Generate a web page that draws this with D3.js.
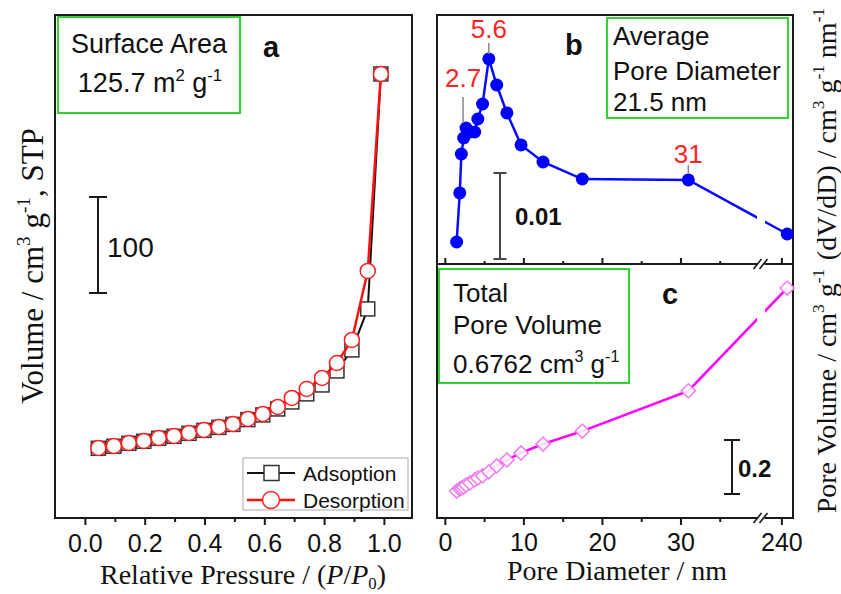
<!DOCTYPE html>
<html><head><meta charset="utf-8">
<script src="https://cdn.jsdelivr.net/npm/d3@7"></script>
<style>body{margin:0;background:#fff}svg{display:block}</style>
</head><body><svg id="chart" width="841" height="594"></svg>
<script>
// ---------------- data ----------------
const pressure = [0.045,0.097,0.147,0.197,0.247,0.298,0.348,0.398,0.448,0.495,0.545,0.595,0.645,0.692,0.742,0.793,0.843,0.893,0.946,0.990];
const adsorption = [24.6,26.7,29.8,31.9,35.0,37.1,40.2,43.3,46.4,49.5,54.5,59.4,65.6,72.9,81.3,90.6,105.2,127.1,169.8,414.6];
const desorption = [25.0,27.1,30.2,32.3,35.4,37.5,40.6,43.8,46.9,50.0,55.2,60.4,67.7,77.1,86.5,97.9,113.5,137.5,209.4,414.6];
const poreDiameter = [1.5,1.9,2.1,2.4,2.7,3.2,3.8,4.2,4.8,5.6,6.6,7.9,9.7,12.5,17.5,31,246];
const dVdD = [0.00256,0.00826,0.01279,0.01465,0.01581,0.01535,0.01535,0.01686,0.01860,0.02384,0.02081,0.01756,0.01384,0.01186,0.00988,0.00977,0.00349];
const poreVolume = [0.022,0.030,0.033,0.037,0.044,0.052,0.063,0.070,0.078,0.093,0.115,0.137,0.163,0.196,0.244,0.393,0.774];
const pressureTicks = [0,0.2,0.4,0.6,0.8,1.0];
const pressureMinorTicks = [0.1,0.3,0.5,0.7,0.9];
const diameterTicks = [0,10,20,30];
const diameterMinorTicks = [5,15,25,35];
const diameterHighTicks = [240];
const peakLabels = ["2.7","5.6","31"];
const peakDiameters = [2.7,5.6,31];
const legendLabels = ["Adsoption","Desorption"];

// ---------------- setup ----------------
const svg = d3.select("#chart");
const SANS = "'Liberation Sans', Arial, sans-serif";
const SERIF = "'Liberation Serif', 'Times New Roman', serif";
const INK = "#1a1a1a";
const GREEN = "#2fd62f";

function rich(sel, parts) {
  // parts: [text, mode] mode: 0 normal, 1 sup
  let shift = 0;
  parts.forEach(([t, m]) => {
    const target = m === 1 ? -0.42 : 0;
    const ts = sel.append("tspan").text(t);
    if (m === 1) ts.attr("font-size", "0.62em").attr("dy", ((target - shift) / 0.62) + "em");
    else ts.attr("dy", (target - shift) + "em");
    shift = target;
  });
}

// ---------------- panel a ----------------
const xA = d3.scaleLinear().domain([-0.1, 1.094]).range([55, 412]);
const yA = d3.scaleLinear().domain([-48, 476]).range([518, 15]);

const axA = svg.append("g").attr("transform", "translate(0,518)")
  .call(d3.axisBottom(xA).tickValues(pressureTicks).tickFormat(d3.format(".1f")).tickSize(7).tickPadding(9));
axA.select(".domain").remove();
axA.selectAll("line").attr("stroke", INK).attr("stroke-width", 2);
axA.selectAll("text").attr("font-family", SANS).attr("font-size", 25).attr("fill", "#111");
const axAm = svg.append("g").attr("transform", "translate(0,518)")
  .call(d3.axisBottom(xA).tickValues(pressureMinorTicks).tickFormat("").tickSize(4));
axAm.select(".domain").remove();
axAm.selectAll("line").attr("stroke", INK).attr("stroke-width", 2);

svg.append("rect").attr("x", 55).attr("y", 15).attr("width", 357).attr("height", 503)
  .attr("fill", "none").attr("stroke", INK).attr("stroke-width", 2);

// green box a
svg.append("rect").attr("x", 58).attr("y", 17).attr("width", 182).attr("height", 96)
  .attr("fill", "none").attr("stroke", GREEN).attr("stroke-width", 2);
svg.append("text").attr("x", 149).attr("y", 53).attr("text-anchor", "middle")
  .attr("font-family", SANS).attr("font-size", 27).attr("fill", "#111").text("Surface Area");
rich(svg.append("text").attr("x", 150).attr("y", 92).attr("text-anchor", "middle")
  .attr("font-family", SANS).attr("font-size", 27).attr("fill", "#111"),
  [["125.7 m", 0], ["2", 1], [" g", 0], ["-1", 1]]);
svg.append("text").attr("x", 263).attr("y", 57).attr("font-family", SANS).attr("font-weight", "bold")
  .attr("font-size", 29).attr("fill", "#111").text("a");

// scale bar a (100 units)
{
  const x0 = 98, yb = 293, len = yA(0) - yA(100);
  const g = svg.append("g").attr("stroke", INK).attr("stroke-width", 2);
  g.append("line").attr("x1", x0).attr("x2", x0).attr("y1", yb).attr("y2", yb - len);
  g.append("line").attr("x1", x0 - 9).attr("x2", x0 + 9).attr("y1", yb).attr("y2", yb);
  g.append("line").attr("x1", x0 - 9).attr("x2", x0 + 9).attr("y1", yb - len).attr("y2", yb - len);
  svg.append("text").attr("x", 107).attr("y", 257).attr("font-family", SANS).attr("font-size", 28)
    .attr("fill", "#111").text("100");
}

const adsData = pressure.map((p, i) => [p, adsorption[i]]);
const desData = pressure.map((p, i) => [p, desorption[i]]);
const lineA = d3.line().x(d => xA(d[0])).y(d => yA(d[1]));
svg.append("path").attr("d", lineA(adsData)).attr("fill", "none").attr("stroke", "#111").attr("stroke-width", 2);
svg.selectAll(".sq").data(adsData).enter().append("rect")
  .attr("x", d => xA(d[0]) - 7).attr("y", d => yA(d[1]) - 7).attr("width", 14).attr("height", 14)
  .attr("fill", "#fff").attr("stroke", "#333").attr("stroke-width", 1.5);
svg.append("path").attr("d", lineA(desData)).attr("fill", "none").attr("stroke", "#ff1010").attr("stroke-width", 2.5);
svg.selectAll(".ci").data(desData).enter().append("circle")
  .attr("cx", d => xA(d[0])).attr("cy", d => yA(d[1])).attr("r", 7.5)
  .attr("fill", "#fff").attr("stroke", "#ff2020").attr("stroke-width", 1.5);

// legend
{
  const g = svg.append("g");
  g.append("rect").attr("x", 243).attr("y", 458).attr("width", 165).attr("height", 52)
    .attr("fill", "#fff").attr("stroke", "#aaa").attr("stroke-width", 1);
  const ys = [473, 500];
  g.append("line").attr("x1", 247).attr("x2", 295).attr("y1", ys[0]).attr("y2", ys[0]).attr("stroke", "#111").attr("stroke-width", 2);
  g.append("rect").attr("x", 264).attr("y", ys[0] - 7.5).attr("width", 15).attr("height", 15)
    .attr("fill", "#fff").attr("stroke", "#333").attr("stroke-width", 1.5);
  g.append("line").attr("x1", 247).attr("x2", 295).attr("y1", ys[1]).attr("y2", ys[1]).attr("stroke", "#ff1010").attr("stroke-width", 2.5);
  g.append("circle").attr("cx", 271).attr("cy", ys[1]).attr("r", 8.5)
    .attr("fill", "#fff").attr("stroke", "#ff2020").attr("stroke-width", 1.5);
  legendLabels.forEach((t, i) => g.append("text").attr("x", 303).attr("y", ys[i] + 7.5)
    .attr("font-family", SANS).attr("font-size", 21).attr("fill", "#111").text(t));
}

// axis titles a
{
  const t = svg.append("text").attr("x", 243).attr("y", 584).attr("text-anchor", "middle")
    .attr("font-family", SERIF).attr("font-size", 28).attr("fill", "#111");
  t.append("tspan").text("Relative Pressure / (");
  t.append("tspan").attr("font-style", "italic").text("P");
  t.append("tspan").text("/");
  t.append("tspan").attr("font-style", "italic").text("P");
  t.append("tspan").attr("font-size", "0.6em").attr("dy", "0.3em").text("0");
  t.append("tspan").attr("dy", "-0.18em").text(")");
}
rich(svg.append("text").attr("transform", "translate(43,266) rotate(-90)").attr("text-anchor", "middle")
  .attr("font-family", SERIF).attr("font-size", 31).attr("fill", "#111"),
  [["Volume / cm", 0], ["3", 1], [" g", 0], ["-1", 1], [", STP", 0]]);

// ---------------- panels b & c ----------------
const xLo = d3.scaleLinear().domain([-1, 40]).range([437, 759]);
const xHi = d3.scaleLinear().domain([220, 252]).range([762, 793]);
const xD = d => d <= 40 ? xLo(d) : xHi(d);
const yB = d3.scaleLinear().domain([0, 0.02895]).range([264, 15]);
const yC = d3.scaleLinear().domain([-0.078, 0.863]).range([518, 264]);

const defs = svg.append("defs");
const cp = defs.append("clipPath").attr("id", "brk");
cp.append("rect").attr("x", 437).attr("y", 0).attr("width", 320).attr("height", 594);
cp.append("rect").attr("x", 765).attr("y", 0).attr("width", 40).attr("height", 594);

function ticks(axisFn, scale, vals, size, y, fmt, pad) {
  const g = svg.append("g").attr("transform", `translate(0,${y})`)
    .call(axisFn(scale).tickValues(vals).tickSize(size).tickPadding(pad || 3).tickFormat(fmt || ""));
  g.select(".domain").remove();
  g.selectAll("line").attr("stroke", INK).attr("stroke-width", 2);
  g.selectAll("text").attr("font-family", SANS).attr("font-size", 25).attr("fill", "#111");
  return g;
}
// middle (b bottom) ticks inward
ticks(d3.axisTop, xLo, diameterTicks, 6, 264);
ticks(d3.axisTop, xLo, diameterMinorTicks, 3, 264);
ticks(d3.axisTop, xHi, diameterHighTicks, 6, 264);
// c bottom ticks outward with labels
ticks(d3.axisBottom, xLo, diameterTicks, 7, 518, d3.format("d"), 8);
ticks(d3.axisBottom, xLo, diameterMinorTicks, 4, 518);
ticks(d3.axisBottom, xHi, diameterHighTicks, 7, 518, d3.format("d"), 8);

svg.append("rect").attr("x", 437).attr("y", 15).attr("width", 356).attr("height", 503)
  .attr("fill", "none").attr("stroke", INK).attr("stroke-width", 2);
svg.append("line").attr("x1", 437).attr("x2", 793).attr("y1", 264).attr("y2", 264)
  .attr("stroke", INK).attr("stroke-width", 2);

// axis breaks
[264, 518].forEach(y => {
  const bx = xLo(40) + 1.5;
  svg.append("rect").attr("x", bx - 3).attr("y", y - 3).attr("width", 7).attr("height", 6).attr("fill", "#fff");
  [-3, 3].forEach(o => svg.append("line").attr("x1", bx + o - 4).attr("y1", y + 5)
    .attr("x2", bx + o + 4).attr("y2", y - 5).attr("stroke", INK).attr("stroke-width", 1.6));
});

// green boxes
svg.append("rect").attr("x", 607).attr("y", 18).attr("width", 181).attr("height", 100)
  .attr("fill", "none").attr("stroke", GREEN).attr("stroke-width", 2);
["Average", "Pore Diameter", "21.5 nm"].forEach((t, i) => svg.append("text")
  .attr("x", 613).attr("y", [45, 80, 111][i]).attr("font-family", SANS).attr("font-size", 26)
  .attr("fill", "#111").text(t));
svg.append("rect").attr("x", 439).attr("y", 269).attr("width", 190).attr("height", 114)
  .attr("fill", "none").attr("stroke", GREEN).attr("stroke-width", 2);
svg.append("text").attr("x", 453).attr("y", 302).attr("font-family", SANS).attr("font-size", 26).attr("fill", "#111").text("Total");
svg.append("text").attr("x", 453).attr("y", 334).attr("font-family", SANS).attr("font-size", 26).attr("fill", "#111").text("Pore Volume");
rich(svg.append("text").attr("x", 453).attr("y", 373).attr("font-family", SANS).attr("font-size", 26).attr("fill", "#111"),
  [["0.6762 cm", 0], ["3", 1], [" g", 0], ["-1", 1]]);

svg.append("text").attr("x", 565).attr("y", 55).attr("font-family", SANS).attr("font-weight", "bold")
  .attr("font-size", 29).attr("fill", "#111").text("b");
svg.append("text").attr("x", 662).attr("y", 304).attr("font-family", SANS).attr("font-weight", "bold")
  .attr("font-size", 29).attr("fill", "#111").text("c");

// scale bars b & c
function bar(x0, yb, len, hw, label, lx, ly, color) {
  const g = svg.append("g").attr("stroke", color).attr("stroke-width", 2);
  g.append("line").attr("x1", x0).attr("x2", x0).attr("y1", yb).attr("y2", yb - len);
  g.append("line").attr("x1", x0 - hw).attr("x2", x0 + hw).attr("y1", yb).attr("y2", yb);
  g.append("line").attr("x1", x0 - hw).attr("x2", x0 + hw).attr("y1", yb - len).attr("y2", yb - len);
  svg.append("text").attr("x", lx).attr("y", ly).attr("font-family", SANS).attr("font-weight", "bold")
    .attr("font-size", 24).attr("fill", "#111").text(label);
}
bar(500, 259, yB(0) - yB(0.01), 6.5, "0.01", 515, 225, "#444");
bar(732, 494, yC(0) - yC(0.2), 8, "0.2", 738, 477, INK);

// panel b data
const bData = poreDiameter.map((d, i) => [d, dVdD[i]]);
const lineB = d3.line().x(d => xD(d[0])).y(d => yB(d[1]));
svg.append("path").attr("d", lineB(bData)).attr("clip-path", "url(#brk)")
  .attr("fill", "none").attr("stroke", "#0a0aff").attr("stroke-width", 2.5);
svg.selectAll(".bp").data(bData).enter().append("circle")
  .attr("cx", d => xD(d[0])).attr("cy", d => yB(d[1])).attr("r", 6.5).attr("fill", "#0000ff");

// peak annotations
const annRise = [[41, 31, 5], [21, 16, 5], [17, 15, 6]]; // label baseline, line top, line bottom offsets
peakDiameters.forEach((d, i) => {
  const idx = poreDiameter.indexOf(d);
  const px = xD(d), py = yB(dVdD[idx]);
  const ax = i === 0 ? px - 3 : px;
  svg.append("line").attr("x1", ax).attr("x2", ax).attr("y1", py - annRise[i][1]).attr("y2", py - annRise[i][2])
    .attr("stroke", "#888").attr("stroke-width", 1.5);
  svg.append("text").attr("x", ax).attr("y", py - annRise[i][0]).attr("text-anchor", "middle")
    .attr("font-family", SANS).attr("font-size", 26).attr("fill", "#ff2424").text(peakLabels[i]);
});

// panel c data
const cData = poreDiameter.map((d, i) => [d, poreVolume[i]]);
const lineC = d3.line().x(d => xD(d[0])).y(d => yC(d[1]));
svg.append("path").attr("d", lineC(cData)).attr("clip-path", "url(#brk)")
  .attr("fill", "none").attr("stroke", "#ff00ff").attr("stroke-width", 2.5);
svg.selectAll(".cp").data(cData).enter().append("path")
  .attr("d", d3.symbol(d3.symbolSquare, 100))
  .attr("transform", d => `translate(${xD(d[0])},${yC(d[1])}) rotate(45)`)
  .attr("fill", "#fff").attr("fill-opacity", 0.85).attr("stroke", "#f07cf0").attr("stroke-width", 1.5);

// right axis titles
rich(svg.append("text").attr("transform", "translate(836,134) rotate(-90)").attr("text-anchor", "middle")
  .attr("font-family", SERIF).attr("font-size", 28).attr("fill", "#111"),
  [["(dV/dD) / cm", 0], ["3", 1], [" g", 0], ["-1", 1], [" nm", 0], ["-1", 1]]);
rich(svg.append("text").attr("transform", "translate(836,391) rotate(-90)").attr("text-anchor", "middle")
  .attr("font-family", SERIF).attr("font-size", 28).attr("fill", "#111"),
  [["Pore Volume / cm", 0], ["3", 1], [" g", 0], ["-1", 1]]);
svg.append("text").attr("x", 617).attr("y", 580).attr("text-anchor", "middle")
  .attr("font-family", SERIF).attr("font-size", 28).attr("fill", "#111").text("Pore Diameter / nm");
</script></body></html>
